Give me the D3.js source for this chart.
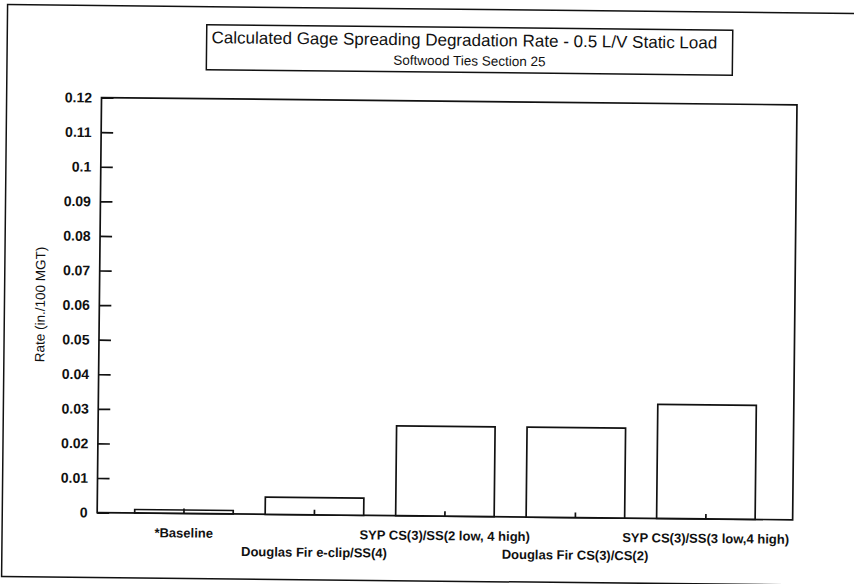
<!DOCTYPE html>
<html>
<head>
<meta charset="utf-8">
<script src="https://cdn.jsdelivr.net/npm/d3@7"></script>
<style>
  html, body { margin: 0; padding: 0; background: #fff; }
  svg { display: block; font-family: "Liberation Sans", Arial, Helvetica, sans-serif; }
</style>
</head>
<body>
<svg id="chart" width="854" height="584"></svg>
<script>
// Tie configurations and their gage spreading degradation rates
const categories = [
  "*Baseline",
  "Douglas Fir e-clip/SS(4)",
  "SYP CS(3)/SS(2 low, 4 high)",
  "Douglas Fir CS(3)/CS(2)",
  "SYP CS(3)/SS(3 low,4 high)"
];
const rates = [0.001, 0.005, 0.026, 0.026, 0.033];
const yTicks = [0, 0.01, 0.02, 0.03, 0.04, 0.05, 0.06, 0.07, 0.08, 0.09, 0.1, 0.11, 0.12];
const yTickLabels = ["0", "0.01", "0.02", "0.03", "0.04", "0.05", "0.06", "0.07", "0.08", "0.09", "0.1", "0.11", "0.12"];
const titleText = "Calculated Gage Spreading Degradation Rate - 0.5 L/V Static Load";
const subtitleText = "Softwood Ties Section 25";
const yAxisTitle = "Rate (in./100 MGT)";

const W = 854, H = 584;
const ink = "#111";

const svg = d3.select("#chart");
// the printed page sits slightly skewed on the sheet
const page = svg.append("g").attr("transform", `rotate(0.6 ${W / 2} ${H / 2})`);

// outer page frame
page.append("rect")
  .attr("x", 4.6).attr("y", 9).attr("width", 900).attr("height", 572)
  .attr("fill", "none").attr("stroke", ink).attr("stroke-width", 1.5);

// plot area
const plot = { left: 99.5, right: 795, top: 101, bottom: 516 };

const x = d3.scaleBand()
  .domain(categories)
  .range([plot.left, plot.right])
  .paddingInner(0.245)
  .paddingOuter(0.2875);

const y = d3.scaleLinear().domain([0, 0.12]).range([plot.bottom, plot.top]);

// plot frame
page.append("rect")
  .attr("x", plot.left).attr("y", plot.top)
  .attr("width", plot.right - plot.left).attr("height", plot.bottom - plot.top)
  .attr("fill", "none").attr("stroke", ink).attr("stroke-width", 1.7);

// bars
page.append("g").selectAll("rect")
  .data(categories)
  .join("rect")
  .attr("x", d => x(d))
  .attr("y", (d, i) => y(rates[i]))
  .attr("width", x.bandwidth())
  .attr("height", (d, i) => y(0) - y(rates[i]))
  .attr("fill", "#fff")
  .attr("stroke", ink)
  .attr("stroke-width", 1.7);

// y axis: ticks point into the plot
const yAxis = d3.axisRight(y)
  .tickValues(yTicks)
  .tickFormat((d, i) => yTickLabels[i])
  .tickSize(12);
const gy = page.append("g").attr("transform", `translate(${plot.left},0)`).call(yAxis);
gy.select(".domain").remove();
gy.selectAll(".tick line").attr("stroke", ink).attr("stroke-width", 1.7);
gy.selectAll(".tick text")
  .attr("x", -9.5)
  .attr("text-anchor", "end")
  .attr("fill", ink)
  .style("font-size", "14px")
  .style("font-weight", "bold");

// x axis: short ticks at bar centres, staggered labels
const xAxis = d3.axisTop(x).tickSize(5).tickFormat("");
const gx = page.append("g").attr("transform", `translate(0,${plot.bottom})`).call(xAxis);
gx.select(".domain").remove();
gx.selectAll(".tick line").attr("stroke", ink).attr("stroke-width", 1.7);

page.append("g").selectAll("text")
  .data(categories)
  .join("text")
  .attr("x", d => x(d) + x.bandwidth() / 2)
  .attr("y", (d, i) => plot.bottom + (i % 2 === 0 ? 24 : 42))
  .attr("text-anchor", "middle")
  .attr("fill", ink)
  .style("font-size", "13px")
  .style("font-weight", "bold")
  .text(d => d);

// y axis title
page.append("text")
  .attr("transform", `translate(45,${(plot.top + plot.bottom) / 2}) rotate(-90)`)
  .attr("text-anchor", "middle")
  .attr("fill", ink)
  .style("font-size", "13.5px")
  .text(yAxisTitle);

// title box
const tBox = { x: 204, y: 27, w: 526, h: 45 };
page.append("rect")
  .attr("x", tBox.x).attr("y", tBox.y).attr("width", tBox.w).attr("height", tBox.h)
  .attr("fill", "#fff").attr("stroke", ink).attr("stroke-width", 1.5);
page.append("text")
  .attr("x", tBox.x + 5).attr("y", tBox.y + 18.5)
  .attr("fill", ink)
  .style("font-size", "17px")
  .text(titleText);
page.append("text")
  .attr("x", tBox.x + tBox.w / 2).attr("y", tBox.y + 38)
  .attr("text-anchor", "middle")
  .attr("fill", ink)
  .style("font-size", "13.5px")
  .text(subtitleText);
</script>
</body>
</html>
